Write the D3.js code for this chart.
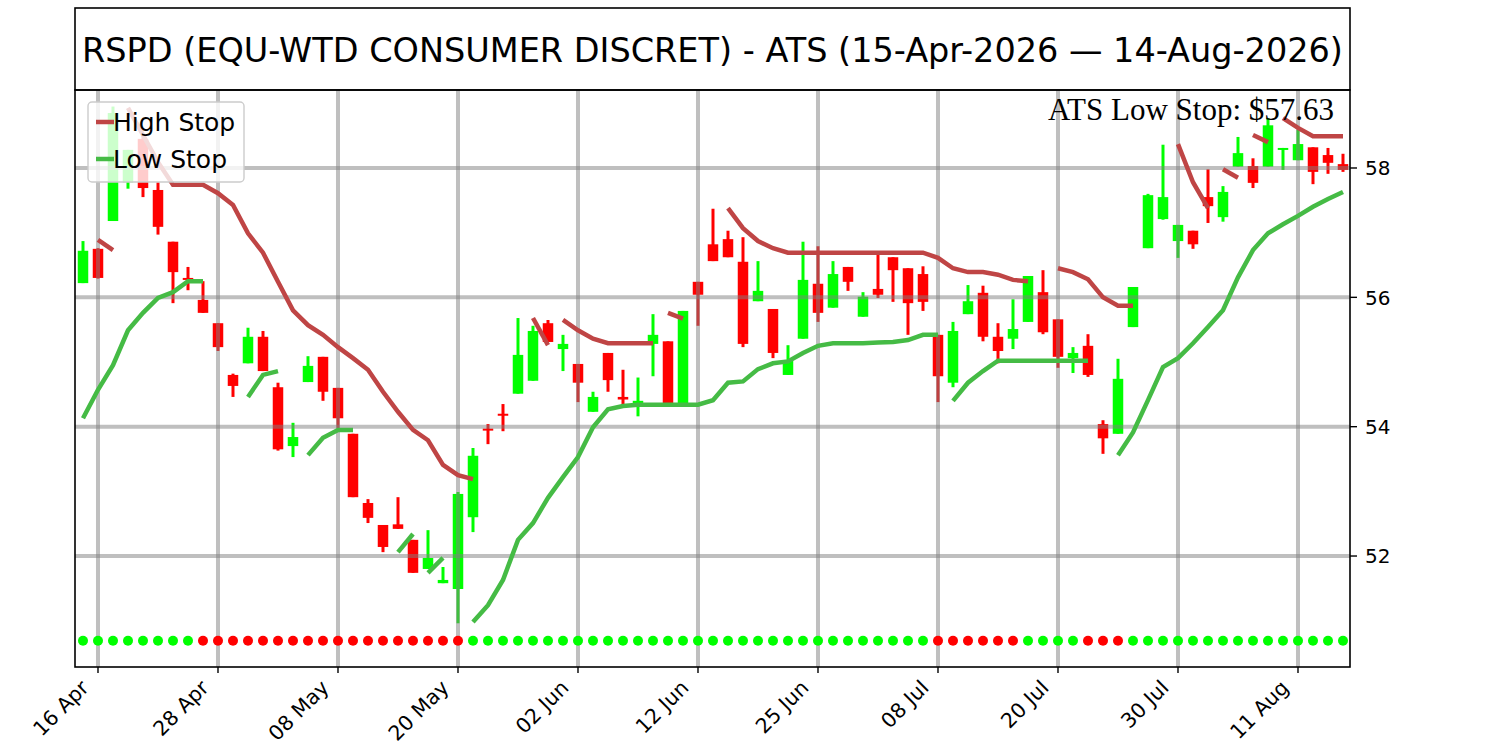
<!DOCTYPE html>
<html>
<head>
<meta charset="utf-8">
<script src="https://cdn.jsdelivr.net/npm/d3@7"></script>
<style>
  body { margin: 0; background: #fff; }
</style>
</head>
<body>
<div id="chart"></div>
<script>
// trading days 15 Apr 2026 .. 14 Aug 2026
var dates = [
  "2026-04-15","2026-04-16","2026-04-17","2026-04-20","2026-04-21","2026-04-22","2026-04-23","2026-04-24","2026-04-27","2026-04-28","2026-04-29","2026-04-30",
  "2026-05-01","2026-05-04","2026-05-05","2026-05-06","2026-05-07","2026-05-08","2026-05-11","2026-05-12","2026-05-13","2026-05-14","2026-05-15","2026-05-18","2026-05-19","2026-05-20","2026-05-21","2026-05-22","2026-05-26","2026-05-27","2026-05-28","2026-05-29",
  "2026-06-01","2026-06-02","2026-06-03","2026-06-04","2026-06-05","2026-06-08","2026-06-09","2026-06-10","2026-06-11","2026-06-12","2026-06-15","2026-06-16","2026-06-17","2026-06-18","2026-06-22","2026-06-23","2026-06-24","2026-06-25","2026-06-26","2026-06-29","2026-06-30",
  "2026-07-01","2026-07-02","2026-07-06","2026-07-07","2026-07-08","2026-07-09","2026-07-10","2026-07-13","2026-07-14","2026-07-15","2026-07-16","2026-07-17","2026-07-20","2026-07-21","2026-07-22","2026-07-23","2026-07-24","2026-07-27","2026-07-28","2026-07-29","2026-07-30","2026-07-31",
  "2026-08-03","2026-08-04","2026-08-05","2026-08-06","2026-08-07","2026-08-10","2026-08-11","2026-08-12","2026-08-13","2026-08-14"
];

var opens = [56.22,56.75,57.18,57.78,58.45,57.66,56.86,56.30,55.96,55.60,54.80,54.98,55.39,54.61,53.70,54.69,55.08,54.60,53.89,52.82,52.48,52.49,52.25,51.80,51.58,51.49,52.60,53.97,54.20,54.51,54.71,55.60,55.20,54.97,54.23,55.14,54.46,54.36,55.28,55.32,54.36,56.24,56.82,56.90,56.55,55.94,55.82,54.80,55.36,56.21,55.84,56.47,55.70,56.13,56.62,56.45,56.36,55.42,54.68,55.74,56.07,55.39,55.36,55.62,56.08,55.66,55.06,55.25,54.04,53.89,55.54,56.76,57.21,56.87,57.03,57.55,57.24,58.02,58.03,58.02,58.28,58.12,58.32,58.20,58.06];
var highs = [56.87,56.76,58.95,58.28,58.50,57.78,56.86,56.47,56.25,55.60,54.82,55.53,55.48,54.68,54.06,55.09,55.08,54.60,53.89,52.88,52.48,52.91,52.25,52.40,51.83,52.99,53.67,54.04,54.35,55.68,55.56,55.65,55.42,54.97,54.54,55.14,54.88,54.76,55.74,55.32,55.79,56.24,57.37,57.03,56.93,56.56,55.82,55.26,56.86,56.79,56.56,56.47,56.08,56.67,56.62,56.45,56.48,55.42,55.62,56.19,56.18,55.60,55.97,56.33,56.42,55.66,55.23,55.43,54.10,55.05,56.16,57.60,58.36,57.12,57.03,57.98,57.72,58.48,58.15,58.77,58.31,58.59,58.32,58.31,58.22];
var lows = [56.22,56.29,57.18,57.68,57.55,56.97,55.91,56.11,55.76,55.17,54.46,54.98,54.86,53.63,53.53,54.69,54.40,53.98,52.91,52.51,52.06,52.42,51.74,51.80,51.58,50.96,52.37,53.73,53.93,54.51,54.71,55.31,54.86,54.38,54.23,54.54,54.30,54.16,54.78,54.33,54.36,55.56,56.56,56.62,55.23,55.94,55.06,54.80,55.36,55.62,55.84,56.10,55.70,55.99,55.93,55.42,55.79,54.38,54.61,55.74,55.32,54.98,55.20,55.62,55.43,54.91,54.83,54.77,53.58,53.89,55.54,56.76,57.20,56.61,56.75,57.15,57.17,58.02,57.69,58.02,57.97,58.12,57.75,57.91,57.94];
var closes = [56.72,56.30,58.85,58.28,57.69,57.09,56.39,56.27,55.76,55.23,54.63,55.39,54.86,53.65,53.84,54.94,54.54,54.13,52.91,52.59,52.14,52.42,51.74,51.97,51.63,52.96,53.55,53.94,54.17,55.11,55.48,55.31,55.28,54.68,54.46,54.72,54.42,54.40,55.42,54.35,55.79,56.04,56.56,56.62,55.28,56.10,55.14,55.02,56.27,55.76,56.36,56.24,56.01,56.04,56.42,55.91,55.93,54.78,55.48,55.94,55.39,55.17,55.51,56.33,55.46,55.08,55.14,54.80,53.82,54.74,56.16,57.58,57.55,57.12,56.82,57.41,57.63,58.23,57.77,58.66,58.31,58.37,57.94,58.08,57.97];

// trailing stops (null = not plotted), plus the days where a new line piece begins
var highStop = [null,56.89,56.73,58.93,58.51,58.09,57.74,57.74,57.74,57.61,57.43,56.99,56.69,56.24,55.80,55.57,55.42,55.23,55.06,54.88,54.54,54.23,53.95,53.79,53.41,53.25,53.19,
  null,null,null,55.68,55.26,55.65,55.49,55.36,55.29,55.29,55.29,55.29,55.76,55.67,null,null,
  57.38,57.07,56.87,56.76,56.69,56.69,56.69,56.69,56.69,56.69,56.69,56.69,56.69,56.69,56.61,56.45,56.39,56.39,56.35,56.27,56.25,
  null,56.45,56.39,56.28,56.00,55.87,55.87,null,null,58.37,57.78,57.38,57.98,57.85,58.51,58.40,58.77,58.62,58.49,58.49,58.49];
var highStarts = [1, 3, 30, 32, 39, 43, 65, 73, 76, 78, 80];

var lowStop = [54.13,54.57,54.95,55.49,55.76,55.99,56.08,56.25,56.25,null,null,54.46,54.80,54.86,null,53.56,53.83,53.95,53.95,null,null,52.06,52.34,51.74,51.97,null,
  50.98,51.24,51.63,52.25,52.51,52.90,53.22,53.53,53.99,54.27,54.32,54.34,54.34,54.34,54.34,54.34,54.41,54.68,54.70,54.89,54.98,55.01,55.14,55.25,55.29,55.29,55.29,55.30,55.31,55.34,55.42,55.42,
  54.40,54.68,54.86,55.02,55.02,55.02,55.02,55.02,55.02,55.02,null,
  53.56,53.91,54.41,54.92,55.06,55.29,55.54,55.80,56.31,56.73,56.99,57.13,57.26,57.40,57.52,57.63];
var lowStarts = [0, 11, 15, 21, 23, 26, 58, 69];

// trend marker per day: G = up, R = down
var trend = ("GGGGGGGG" + "RRRRRRRRRRRRRRRRRR" + "GGGGGGGGGGGGGGGGGGGGGGGGGGGGGGG" +
             "RRRRRR" + "GGGG" + "RRR" + "GGGGGGGGGGGGGGG").split("");

var tickDates = ["2026-04-16","2026-04-28","2026-05-08","2026-05-20","2026-06-02","2026-06-12",
                 "2026-06-25","2026-07-08","2026-07-20","2026-07-30","2026-08-11"];
var yTicks = [52, 54, 56, 58];
var markerLevel = 50.69;

var titleText = "RSPD (EQU-WTD CONSUMER DISCRET) - ATS (15-Apr-2026 \u2014 14-Aug-2026)";
var noteText = "ATS Low Stop: $57.63";

var W = 1500, H = 750;
var pl = 75, pr = 1350, pt = 90, pb = 667;
var sans = "'DejaVu Sans', sans-serif";

var svg = d3.select("#chart").append("svg")
    .attr("width", W)
    .attr("height", H)
    .style("font-family", sans);

svg.append("rect").attr("width", W).attr("height", H).attr("fill", "#fff");

var x = d3.scaleLinear().domain([-0.533, dates.length - 0.533]).range([pl, pr]);
var y = d3.scaleLinear().domain([50.284, 59.206]).range([pb, pt]);

var parse = d3.timeParse("%Y-%m-%d");
var fmt = d3.timeFormat("%d %b");

svg.append("clipPath").attr("id", "clip")
  .append("rect").attr("x", pl).attr("y", pt).attr("width", pr - pl).attr("height", pb - pt);

var plot = svg.append("g").attr("clip-path", "url(#clip)");

var days = d3.range(dates.length);
var upColor = "#00ff00", downColor = "#ff0000";
var col = function (i) { return closes[i] >= opens[i] ? upColor : downColor; };

// wicks
plot.append("g").selectAll("line")
  .data(days).enter().append("line")
  .attr("x1", function (i) { return x(i); })
  .attr("x2", function (i) { return x(i); })
  .attr("y1", function (i) { return y(highs[i]); })
  .attr("y2", function (i) { return y(lows[i]); })
  .attr("stroke", col)
  .attr("stroke-width", 3);

// bodies
var bw = 10.5;
plot.append("g").selectAll("rect")
  .data(days).enter().append("rect")
  .attr("x", function (i) { return x(i) - bw / 2; })
  .attr("y", function (i) { return y(Math.max(opens[i], closes[i])); })
  .attr("width", bw)
  .attr("height", function (i) { return Math.max(2, Math.abs(y(opens[i]) - y(closes[i]))); })
  .attr("fill", col);

// grid
var tickIdx = tickDates.map(function (d) { return dates.indexOf(d); });
var grid = plot.append("g").attr("stroke", "gray").attr("stroke-opacity", 0.5).attr("stroke-width", 4);
grid.selectAll(".vx").data(tickIdx).enter().append("line")
  .attr("x1", function (i) { return x(i); }).attr("x2", function (i) { return x(i); })
  .attr("y1", pt).attr("y2", pb);
grid.selectAll(".hy").data(yTicks).enter().append("line")
  .attr("y1", function (v) { return y(v); }).attr("y2", function (v) { return y(v); })
  .attr("x1", pl).attr("x2", pr);

// stop lines, split into pieces
function pieces(values, starts) {
  var out = [];
  starts.forEach(function (s) {
    var seg = [];
    for (var i = s; i < values.length && values[i] != null; i++) {
      if (i > s && starts.indexOf(i) >= 0) break;
      seg.push(i);
    }
    out.push(seg);
  });
  return out;
}

var line = function (values) {
  return d3.line()
    .x(function (i) { return x(i); })
    .y(function (i) { return y(values[i]); });
};

var highColor = "#bf4545", lowColor = "#45bb45";

plot.append("g").selectAll("path")
  .data(pieces(highStop, highStarts)).enter().append("path")
  .attr("d", line(highStop))
  .attr("fill", "none")
  .attr("stroke", highColor)
  .attr("stroke-width", 4.5);

plot.append("g").selectAll("path")
  .data(pieces(lowStop, lowStarts)).enter().append("path")
  .attr("d", line(lowStop))
  .attr("fill", "none")
  .attr("stroke", lowColor)
  .attr("stroke-width", 4.5);

// trend markers
plot.append("g").selectAll("circle")
  .data(days).enter().append("circle")
  .attr("cx", function (i) { return x(i); })
  .attr("cy", y(markerLevel))
  .attr("r", 5)
  .attr("fill", function (i) { return trend[i] === "G" ? upColor : downColor; });

// frame
svg.append("rect")
  .attr("x", pl).attr("y", pt)
  .attr("width", pr - pl).attr("height", pb - pt)
  .attr("fill", "none").attr("stroke", "#000").attr("stroke-width", 1.6);

// title box
svg.append("rect")
  .attr("x", pl).attr("y", 8)
  .attr("width", pr - pl).attr("height", pt - 8)
  .attr("fill", "none").attr("stroke", "#000").attr("stroke-width", 1.6);
svg.append("text")
  .attr("x", (pl + pr) / 2).attr("y", 62)
  .attr("text-anchor", "middle")
  .attr("font-size", 33.5)
  .text(titleText);

// x axis
var xa = svg.append("g");
xa.selectAll("line").data(tickIdx).enter().append("line")
  .attr("x1", function (i) { return x(i); }).attr("x2", function (i) { return x(i); })
  .attr("y1", pb).attr("y2", pb + 6)
  .attr("stroke", "#000").attr("stroke-width", 1.4);
xa.selectAll("text").data(tickIdx).enter().append("text")
  .attr("transform", function (i) { return "translate(" + (x(i) - 8) + "," + (pb + 22) + ") rotate(-45)"; })
  .attr("text-anchor", "end")
  .attr("font-size", 20.5)
  .text(function (i) { return fmt(parse(dates[i])); });

// y axis on the right
var ya = svg.append("g");
ya.selectAll("line").data(yTicks).enter().append("line")
  .attr("x1", pr).attr("x2", pr + 7)
  .attr("y1", function (v) { return y(v); }).attr("y2", function (v) { return y(v); })
  .attr("stroke", "#000").attr("stroke-width", 1.4);
ya.selectAll("text").data(yTicks).enter().append("text")
  .attr("x", pr + 15)
  .attr("y", function (v) { return y(v); })
  .attr("dy", "0.36em")
  .attr("font-size", 20)
  .text(function (v) { return v; });

// legend
var lg = svg.append("g");
lg.append("rect")
  .attr("x", 88).attr("y", 102).attr("width", 156).attr("height", 80).attr("rx", 4)
  .attr("fill", "#fff").attr("fill-opacity", 0.8)
  .attr("stroke", "#cccccc").attr("stroke-width", 1.4);
[["High Stop", highColor, 122], ["Low Stop", lowColor, 159]].forEach(function (d) {
  lg.append("line").attr("x1", 96).attr("x2", 114).attr("y1", d[2]).attr("y2", d[2])
    .attr("stroke", d[1]).attr("stroke-width", 4.5);
  lg.append("text").attr("x", 113).attr("y", d[2]).attr("dy", "0.36em")
    .attr("font-size", 25).text(d[0]);
});

// note
svg.append("text")
  .attr("x", 1334).attr("y", 120)
  .attr("text-anchor", "end")
  .style("font-family", "'Liberation Serif', 'Times New Roman', serif")
  .attr("font-size", 31)
  .text(noteText);
</script>
</body>
</html>
